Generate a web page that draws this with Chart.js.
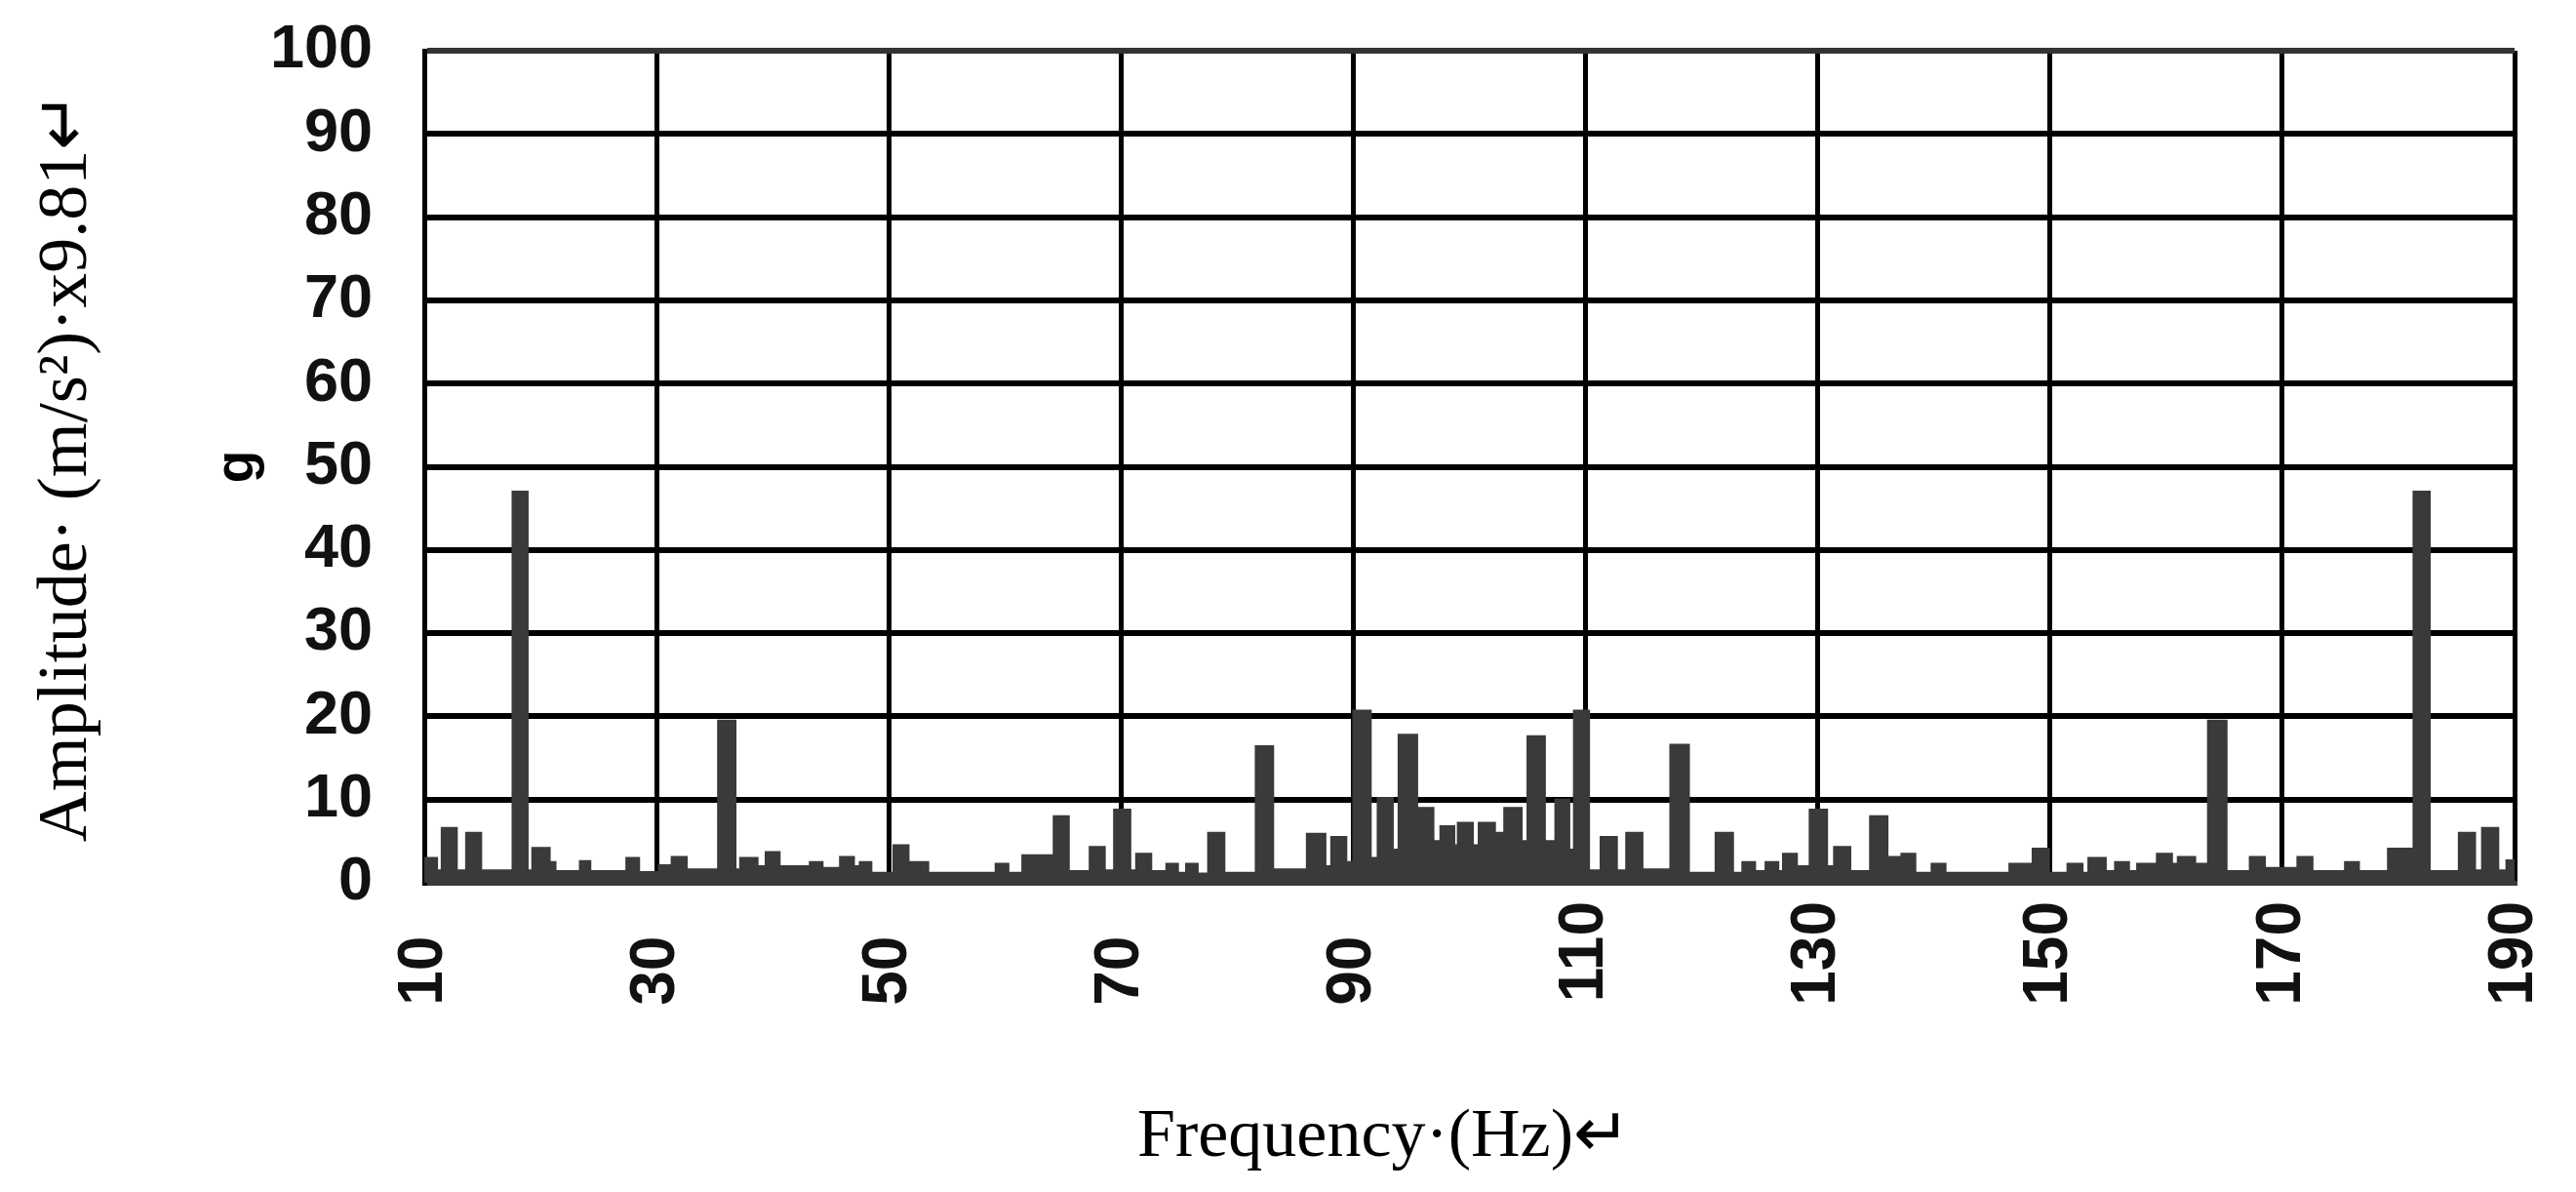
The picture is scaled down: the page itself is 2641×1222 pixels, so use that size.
<!DOCTYPE html>
<html>
<head>
<meta charset="utf-8">
<script src="https://cdn.jsdelivr.net/npm/chart.js@4/dist/chart.umd.min.js"></script>
<style>
  body { margin: 0; background: #fff; }
  #wrap { width: 2641px; height: 1222px; }
</style>
</head>
<body>
<div id="wrap"><canvas id="spectrum" width="2641" height="1222"></canvas></div>
<script>
// tick labels
const freqTicks = [10, 30, 50, 70, 90, 110, 130, 150, 170, 190];
const ampTicks = [0, 10, 20, 30, 40, 50, 60, 70, 80, 90, 100];

// spectrum: each level holds from its frequency to the next one
const freqHz = [
    10.0, 11.1, 11.5, 12.8, 13.6, 14.9, 17.6, 18.9, 19.3, 20.8,
    21.3, 23.4, 24.3, 27.4, 28.5, 30.2, 31.3, 32.6, 35.3, 36.8,
    37.2, 38.7, 39.4, 40.6, 43.2, 44.3, 45.8, 47.0, 47.5, 48.5,
    50.4, 51.7, 53.4, 59.2, 60.3, 61.5, 64.2, 65.5, 67.3, 68.6,
    69.4, 70.8, 71.3, 72.6, 73.9, 74.9, 75.6, 76.6, 77.5, 78.9,
    81.6, 83.1, 86.0, 87.6, 88.1, 89.4, 90.0, 91.5, 92.1, 93.4,
    93.9, 95.5, 96.9, 97.5, 98.7, 99.0, 100.3, 100.8, 102.2, 103.0,
    104.5, 105.0, 106.5, 107.4, 108.6, 109.0, 110.3, 111.3, 112.7, 113.5,
    114.9, 117.3, 118.9, 121.2, 122.7, 123.5, 124.6, 125.5, 126.6, 127.0,
    128.2, 129.3, 130.8, 131.4, 132.8, 134.5, 136.0, 137.2, 138.4, 139.8,
    141.0, 146.5, 148.5, 149.9, 151.5, 152.8, 153.3, 154.8, 155.6, 156.8,
    157.5, 159.2, 160.5, 161.0, 162.5, 163.6, 165.2, 167.2, 168.5, 171.3,
    172.6, 175.4, 176.6, 179.1, 181.3, 182.7, 185.2, 186.6, 187.2, 188.6,
    189.3, 190.0
];
const amplitude = [
    3.0, 1.5, 6.6, 1.5, 6.0, 1.5, 47, 1.5, 4.2, 2.5,
    1.4, 2.6, 1.4, 3.0, 1.3, 2.1, 3.1, 1.6, 19.5, 1.6,
    3.0, 2.0, 3.7, 2.0, 2.5, 1.8, 3.1, 2.0, 2.5, 1.2,
    4.5, 2.5, 1.2, 2.3, 1.2, 3.3, 8.0, 1.4, 4.3, 1.5,
    8.8, 1.5, 3.5, 1.4, 2.3, 1.2, 2.3, 1.1, 6.0, 1.2,
    16.4, 1.6, 5.9, 2.0, 5.5, 2.5, 20.7, 3.0, 10.2, 4.0,
    17.8, 9.0, 5.0, 6.8, 4.5, 7.2, 4.5, 7.2, 6.0, 9.0,
    5.0, 17.6, 5.0, 10.0, 4.0, 20.7, 1.5, 5.5, 1.5, 6.0,
    1.6, 16.6, 1.2, 6.0, 1.2, 2.5, 1.4, 2.5, 1.4, 3.5,
    2.0, 8.8, 2.0, 4.3, 1.4, 8.0, 3.1, 3.5, 1.2, 2.3,
    1.2, 2.3, 4.1, 1.2, 2.3, 1.2, 3.0, 1.4, 2.5, 1.4,
    2.3, 3.5, 2.3, 3.1, 2.3, 19.5, 1.4, 3.1, 1.8, 3.1,
    1.4, 2.5, 1.4, 4.1, 47, 1.4, 6.0, 1.5, 6.6, 1.5,
    2.7, 2.7
];

const points = freqHz.map((f, i) => ({ x: f, y: amplitude[i] }));

new Chart(document.getElementById("spectrum"), {
    type: "line",
    data: {
        datasets: [{
            data: points,
            stepped: true,
            fill: "origin",
            backgroundColor: "#3a3a3a",
            borderColor: "#3a3a3a",
            borderWidth: 2,
            pointRadius: 0,
            xAxisID: "x",
            yAxisID: "y"
        }]
    },
    options: {
        responsive: false,
        animation: false,
        layout: { padding: { top: 52, right: 63, bottom: 0, left: 0 } },
        plugins: {
            legend: { display: false },
            tooltip: { enabled: false }
        },
        scales: {
            x: {
                type: "linear",
                min: 10,
                max: 190,
                afterBuildTicks: scale => { scale.ticks = freqTicks.map(v => ({ value: v })); },
                afterFit: scale => { scale.height = 317; },
                grid: { color: "#000", lineWidth: 5, tickLength: 16, tickColor: "rgba(0,0,0,0)" },
                border: { color: "#3a3a3a", width: 5 },
                ticks: {
                    autoSkip: false,
                    minRotation: 90,
                    maxRotation: 90,
                    padding: 3,
                    color: "#111",
                    // labels start from the same baseline: pad the short ones with a figure space
                    callback: v => String(v).length < 3 ? v + "\u2007" : String(v),
                    font: { family: "'Liberation Sans', Arial, sans-serif", weight: "bold", size: 64, lineHeight: 0.9 }
                },
                title: {
                    display: true,
                    text: "Frequency·(Hz)↵\u2002\u2002\u2002\u2002\u2002",
                    color: "#000",
                    padding: { top: 0, bottom: 13 },
                    font: { family: "'Liberation Serif', 'Times New Roman', serif", size: 70 }
                }
            },
            y: {
                type: "linear",
                position: "left",
                weight: 0,
                min: 0,
                max: 100,
                afterBuildTicks: scale => { scale.ticks = ampTicks.map(v => ({ value: v })); },
                afterFit: scale => { scale.width = 245; },
                grid: {
                    color: ctx => ctx.tick && ctx.tick.value === 100 ? "#333" : "#000",
                    lineWidth: 6,
                    tickLength: 50,
                    tickColor: "rgba(0,0,0,0)"
                },
                border: { color: "#000", width: 5 },
                ticks: {
                    autoSkip: false,
                    padding: 3,
                    color: "#111",
                    font: { family: "'Liberation Sans', Arial, sans-serif", weight: "bold", size: 63 }
                },
                title: {
                    display: true,
                    text: "g",
                    color: "#000",
                    padding: { top: 21, bottom: 10 },
                    font: { family: "'Liberation Sans', Arial, sans-serif", weight: "bold", size: 55 }
                }
            },
            yTitle: {
                type: "linear",
                position: "left",
                weight: 1,
                afterFit: scale => { scale.width = 190; },
                grid: { display: false },
                border: { display: false },
                ticks: { display: false },
                title: {
                    display: true,
                    text: "Amplitude· (m/s²)·x9.81↵",
                    color: "#000",
                    padding: { top: 26, bottom: 0 },
                    font: { family: "'Liberation Serif', 'Times New Roman', serif", size: 72 }
                }
            }
        }
    }
});
</script>
</body>
</html>
